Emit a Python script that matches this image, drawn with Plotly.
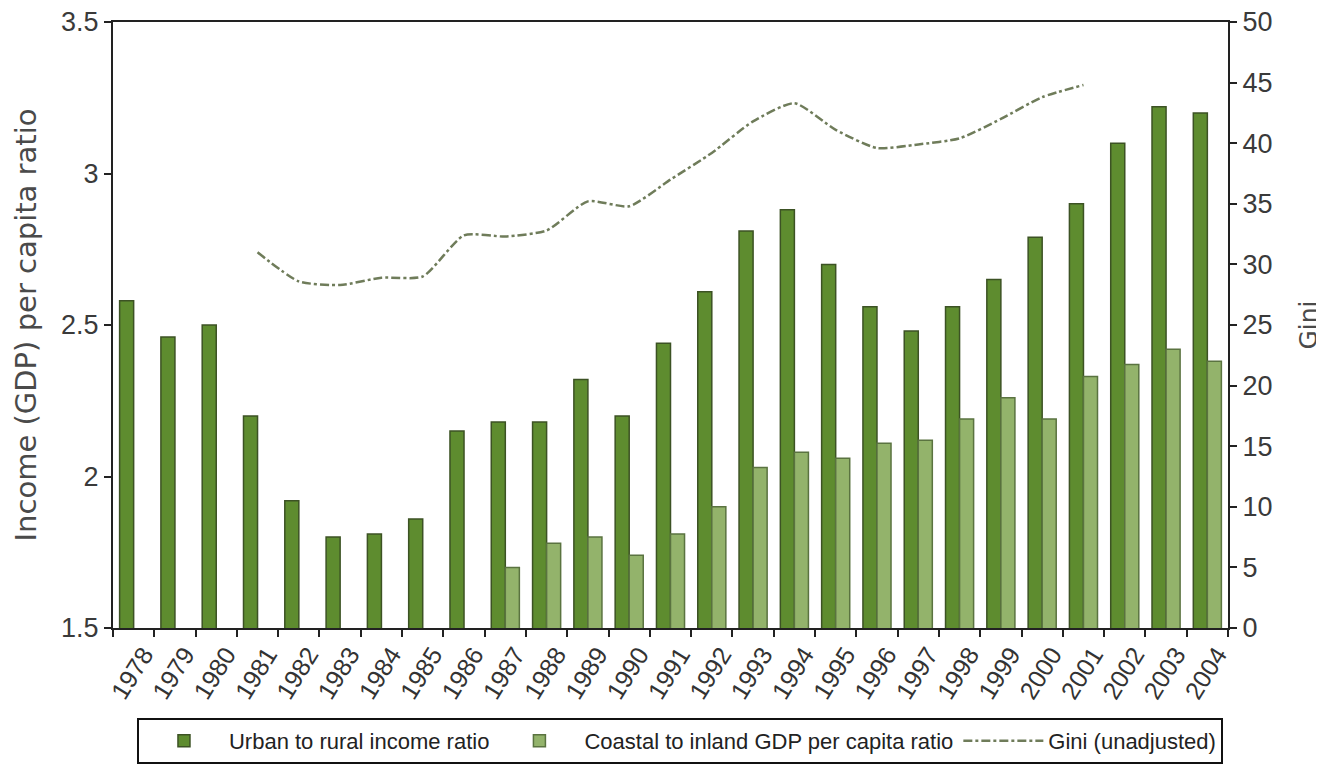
import plotly.graph_objects as go

years = [str(y) for y in range(1978, 2005)]

urban_rural = [2.58, 2.46, 2.50, 2.20, 1.92, 1.80, 1.81, 1.86, 2.15, 2.18,
               2.18, 2.32, 2.20, 2.44, 2.61, 2.81, 2.88, 2.70, 2.56, 2.48,
               2.56, 2.65, 2.79, 2.90, 3.10, 3.22, 3.20]

coastal_inland = [None, None, None, None, None, None, None, None, None, 1.70,
                  1.78, 1.80, 1.74, 1.81, 1.90, 2.03, 2.08, 2.06, 2.11, 2.12,
                  2.19, 2.26, 2.19, 2.33, 2.37, 2.42, 2.38]

gini = [None, None, None, 31.0, 28.6, 28.3, 28.9, 29.0, 32.4, 32.3,
        32.8, 35.2, 34.8, 37.0, 39.2, 41.8, 43.3, 41.1, 39.6, 39.9,
        40.4, 42.0, 43.8, 44.8, None, None, None]

base_font = "Liberation Sans, Arial, sans-serif"

fig = go.Figure()
fig.add_trace(go.Bar(
    x=years, y=urban_rural, name="Urban to rural income ratio",
    marker=dict(color="#5e8c2f", line=dict(color="#3c5224", width=1.5)),
))
fig.add_trace(go.Bar(
    x=years, y=coastal_inland, name="Coastal to inland GDP per capita ratio",
    marker=dict(color="#93b36b", line=dict(color="#5a7340", width=1.5)),
))
fig.add_trace(go.Scatter(
    x=years, y=gini, name="Gini (unadjusted)", yaxis="y2", mode="lines",
    line=dict(color="#6f7c5a", width=2.5, dash="dashdot", shape="spline", smoothing=0.6),
    connectgaps=False,
))

axis_common = dict(showline=True, linecolor="#222", linewidth=2,
                   ticks="outside", ticklen=7, tickwidth=2, tickcolor="#222",
                   showgrid=False, ticklabeloverflow="allow", automargin=False)

fig.update_layout(
    width=1324, height=772,
    margin=dict(l=105, r=104, t=14, b=152),
    paper_bgcolor="white", plot_bgcolor="white",
    barmode="group", bargap=0.32, bargroupgap=0,
    font=dict(family=base_font, color="#3a3a3a"),
    xaxis=dict(
        type="category", range=[-0.5, 26.5], mirror=True, tickson="boundaries",
        tickangle=-58, ticklabelshift=10,
        tickfont=dict(family=base_font, size=25, color="#333"),
        **axis_common,
    ),
    yaxis=dict(
        range=[1.5, 3.5], dtick=0.5, zeroline=False,
        tickfont=dict(family=base_font, size=27, color="#3a3a3a"),
        title=dict(text="Income (GDP) per capita ratio",
                   font=dict(family="DejaVu Sans, sans-serif", size=29, color="#4a4a4a"),
                   standoff=16),
        **axis_common,
    ),
    yaxis2=dict(
        range=[0, 50], dtick=5, overlaying="y", side="right", zeroline=False,
        tickfont=dict(family=base_font, size=27, color="#3a3a3a"),
        title=dict(text="Gini", font=dict(family="DejaVu Sans, sans-serif", size=25, color="#4a4a4a"),
                   standoff=28),
        **axis_common,
    ),
    legend=dict(
        orientation="h", x=0.0215, xanchor="left", y=-0.1485, yanchor="top",
        bordercolor="#111", borderwidth=2, bgcolor="white",
        itemwidth=80,
        font=dict(family=base_font, size=22, color="#222"),
        traceorder="normal",
    ),
)

fig.write_html("out.html")
